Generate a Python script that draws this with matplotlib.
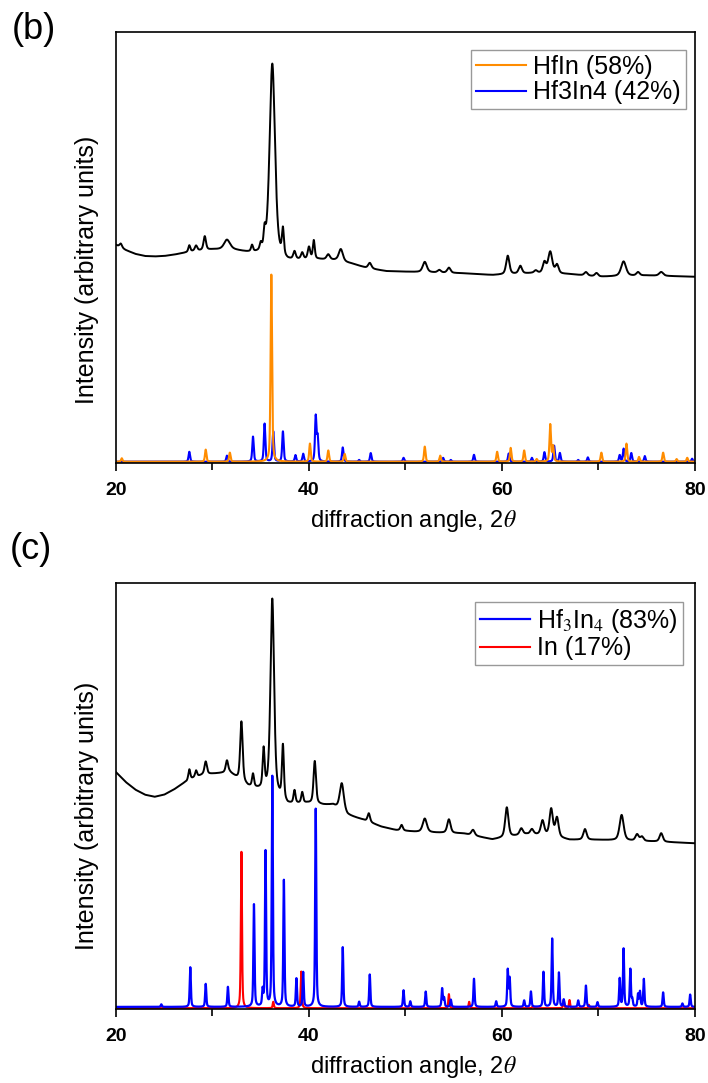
import numpy as np
import matplotlib
matplotlib.use("Agg")
import matplotlib.pyplot as plt

plt.rcParams['font.family'] = ['Liberation Sans', 'DejaVu Sans']
plt.rcParams['mathtext.fontset'] = 'stix'

exp_b_base_x = [20, 21, 22, 23, 24, 25, 26, 27, 28, 30, 32, 33.5, 34.8, 37.8, 39, 41, 42.8,
                44.5, 46, 48, 51, 56, 59, 63, 67, 70, 75, 80]
exp_b_base_y = [50.6, 49.4, 48.5, 48.0, 47.9, 48.0, 48.3, 48.7, 49.1, 49.5, 49.5, 48.8,
                48.3, 46.7, 47.0, 47.2, 47.0, 46.2, 45.2, 44.5, 44.3, 44.0, 43.6, 44.0,
                43.8, 43.2, 43.5, 43.2]
exp_b_pos = [20.5, 27.6, 28.3, 29.2, 31.5, 34.1, 35.0, 35.4, 36.2, 37.3, 38.5, 39.3, 40.0,
             40.5, 42.0, 43.3, 46.3, 52.0, 53.5, 54.5, 60.6, 61.9, 63.5, 64.4, 65.0, 65.7,
             68.7, 69.8, 72.6, 74.1, 76.5]
exp_b_hgt = [0.9, 1.5, 1.2, 3.2, 2.2, 1.5, 1.5, 4.0, 45.0, 6.0, 1.8, 1.5, 2.8, 4.3, 1.2,
             2.8, 1.3, 2.4, 0.6, 1.2, 4.3, 1.8, 0.6, 2.5, 5.0, 2.0, 0.8, 0.8, 3.4, 0.8, 0.9]
exp_b_wid = [0.15, 0.12, 0.15, 0.15, 0.35, 0.12, 0.12, 0.12, 0.33, 0.12, 0.15, 0.15, 0.15,
             0.12, 0.2, 0.25, 0.2, 0.25, 0.2, 0.2, 0.2, 0.2, 0.2, 0.2, 0.25, 0.2, 0.2, 0.2,
             0.3, 0.2, 0.25]

# reference patterns, panel (b)
hfin_pos = [20.6, 29.3, 31.8, 36.1, 40.1, 42.0, 43.7, 52.0, 53.6, 59.5, 60.9, 62.3, 63.6,
            65.0, 65.3, 70.3, 72.9, 74.2, 76.7, 78.1, 79.2]
hfin_hgt = [0.8, 2.8, 2.1, 43.4, 4.2, 2.6, 1.8, 3.5, 1.4, 2.3, 3.2, 2.6, 0.6, 8.6, 3.5,
            2.1, 4.2, 1.1, 2.1, 0.6, 0.9]
hf3in4_b_pos = [27.6, 31.5, 34.2, 35.4, 36.3, 37.3, 38.6, 39.4, 40.7, 40.9, 43.5, 45.2,
                46.4, 49.8, 53.9, 54.7, 57.1, 60.7, 63.1, 64.4, 65.4, 66.0, 67.9, 68.9,
                72.2, 72.6, 73.4, 74.8, 79.7]
hf3in4_b_hgt = [2.3, 1.4, 5.8, 8.8, 7.0, 7.0, 1.5, 1.8, 10.4, 5.5, 3.3, 0.4, 2.0, 0.9, 0.9,
                0.4, 1.6, 1.9, 0.9, 2.2, 3.7, 2.0, 0.4, 1.0, 1.5, 3.0, 2.0, 1.3, 0.7]

# ---- panel (c): measured pattern
exp_c_base_x = [20, 21, 22, 23, 24, 25, 26, 27, 28, 29, 30, 31.8, 32.5, 33.7, 34.8, 36.0,
                37.8, 39.8, 41.5, 42.5, 44, 45.5, 47.5, 49, 51, 53, 56, 59, 62.5, 64.5, 67,
                70, 76, 80]
exp_c_base_y = [55.6, 53.3, 51.5, 50.3, 49.8, 50.3, 51.5, 53.0, 54.2, 55.0, 55.2, 55.5,
                54.2, 52.2, 51.5, 51.0, 48.0, 48.3, 47.9, 47.9, 45.5, 44.5, 42.8, 42.0,
                41.6, 41.4, 41.2, 39.8, 41.0, 40.8, 39.7, 39.7, 39.3, 38.9]
exp_c_pos = [27.6, 28.3, 29.3, 31.5, 33.0, 34.2, 35.3, 36.2, 37.3, 38.5, 39.3, 40.6, 43.4,
             46.2, 49.6, 52.0, 54.5, 57.0, 60.5, 62.0, 63.1, 64.2, 65.1, 65.7, 68.6, 72.4,
             74.0, 74.5, 76.5]
exp_c_hgt = [2.5, 1.5, 3.0, 2.8, 14.0, 3.0, 9.0, 45.5, 12.5, 3.0, 2.5, 10.0, 6.5, 2.0, 1.3,
             3.2, 3.2, 1.3, 7.0, 1.5, 1.2, 3.3, 6.3, 4.5, 2.5, 6.0, 1.5, 1.0, 2.0]
exp_c_wid = [0.12, 0.12, 0.15, 0.15, 0.15, 0.12, 0.12, 0.22, 0.12, 0.12, 0.12, 0.15, 0.25,
             0.15, 0.15, 0.25, 0.2, 0.2, 0.2, 0.2, 0.2, 0.2, 0.2, 0.2, 0.2, 0.25, 0.2, 0.2,
             0.2]

# reference patterns, panel (c)
hf3in4_c_pos = [24.7, 27.7, 29.3, 31.6, 34.3, 35.2, 35.5, 36.2, 37.4, 38.7, 39.4, 40.7,
                43.5, 45.2, 46.3, 49.8, 50.5, 52.1, 53.8, 54.0, 54.7, 57.1, 59.4, 60.6,
                60.8, 62.3, 63.0, 64.3, 65.2, 65.9, 66.4, 67.9, 68.7, 69.9, 72.2, 72.6,
                73.3, 73.5, 74.1, 74.3, 74.7, 76.7, 78.7, 79.5]
hf3in4_c_hgt = [0.6, 9.3, 5.4, 4.7, 24.0, 3.6, 36.4, 54.0, 29.7, 6.6, 8.1, 46.5, 14.0, 1.2,
                7.6, 3.9, 1.3, 3.6, 4.3, 2.1, 1.7, 6.6, 1.3, 8.6, 6.6, 1.5, 3.6, 8.2, 16.0,
                8.0, 1.7, 1.5, 5.0, 1.1, 6.6, 13.6, 8.8, 1.7, 2.9, 3.5, 6.5, 3.4, 0.8, 2.9]
in_pos = [33.0, 36.3, 39.2, 54.5, 56.6, 63.2, 66.4, 67.0, 69.0]
in_hgt = [36.7, 1.5, 8.6, 3.3, 1.5, 0.5, 1.9, 1.9, 0.8]

tt = np.arange(20, 80.001, 0.01)


def profile(x, pos, hgt, wid, eta=0.5):
    # pseudo-Voigt peak sum
    y = np.zeros_like(x)
    for p, h, w in zip(pos, hgt, wid):
        d = ((x - p) / w) ** 2
        y += h * (eta / (1 + d) + (1 - eta) * np.exp(-np.log(2) * d))
    return y


def style_axes(ax):
    ax.set_xlim(20, 80)
    ax.set_ylim(0, 100)
    ax.set_yticks([])
    ax.set_xticks([20, 40, 60, 80])
    ax.set_xticks([30, 50, 70], minor=True)
    ax.tick_params(axis='x', which='major', direction='out', length=6, width=1.2,
                   pad=8, labelsize=14)
    ax.tick_params(axis='x', which='minor', direction='out', length=5, width=1.2)
    for lab in ax.get_xticklabels():
        lab.set_fontweight('bold')
    for sp in ax.spines.values():
        sp.set_linewidth(1.2)
    ax.set_xlabel(r"diffraction angle, 2$\theta$", fontsize=17)
    ax.set_ylabel("Intensity (arbitrary units)", fontsize=18)


fig = plt.figure(figsize=(7.08, 10.83), dpi=100)
ax_b = fig.add_axes([0.1638, 0.5725, 0.8178, 0.398])
ax_c = fig.add_axes([0.1638, 0.0683, 0.8178, 0.3934])

leg_kw = dict(loc='upper right', borderaxespad=0, fontsize=18, fancybox=False,
              edgecolor='#999999', handlelength=2.0, handletextpad=0.3,
              labelspacing=0.05, borderpad=0.2, framealpha=1)

# (b)
y_exp_b = np.interp(tt, exp_b_base_x, exp_b_base_y) + profile(tt, exp_b_pos, exp_b_hgt, exp_b_wid)
y_hf3 = 0.3 + profile(tt, hf3in4_b_pos, hf3in4_b_hgt, [0.09] * len(hf3in4_b_pos))
y_hfin = 0.3 + profile(tt, hfin_pos, hfin_hgt, [0.09] * len(hfin_pos))
ax_b.plot(tt, y_exp_b, color='black', lw=1.4)
l_blue, = ax_b.plot(tt, y_hf3, color='#0000ff', lw=1.5)
l_orng, = ax_b.plot(tt, y_hfin, color='#ff8c00', lw=1.5)
style_axes(ax_b)
ax_b.legend([l_orng, l_blue], ["HfIn (58%)", "Hf3In4 (42%)"],
            bbox_to_anchor=(0.984, 0.958), **leg_kw)

# (c)
y_exp_c = np.interp(tt, exp_c_base_x, exp_c_base_y) + profile(tt, exp_c_pos, exp_c_hgt, exp_c_wid)
y_in = 0.2 + profile(tt, in_pos, in_hgt, [0.07] * len(in_pos))
y_hf3c = 0.5 + profile(tt, hf3in4_c_pos, hf3in4_c_hgt, [0.07] * len(hf3in4_c_pos))
ax_c.plot(tt, y_exp_c, color='black', lw=1.4)
l_red, = ax_c.plot(tt, y_in, color='#ff0000', lw=1.5)
l_blue_c, = ax_c.plot(tt, y_hf3c, color='#0000ff', lw=1.6)
style_axes(ax_c)
ax_c.legend([l_blue_c, l_red], [r"Hf$_3$In$_4$ (83%)", "In (17%)"],
            bbox_to_anchor=(0.979, 0.955), **leg_kw)

for ax, ly in [(ax_b, 0.448), (ax_c, 0.453)]:
    ax.yaxis.set_label_coords(-0.03, ly)
    ax.xaxis.set_label_coords(0.513, -0.105)

fig.text(12 / 708, 1 - 12 / 1083, "(b)", fontsize=26, va='top')
fig.text(10 / 708, 1 - 532 / 1083, "(c)", fontsize=26, va='top')

fig.savefig("out.png", dpi=100)
